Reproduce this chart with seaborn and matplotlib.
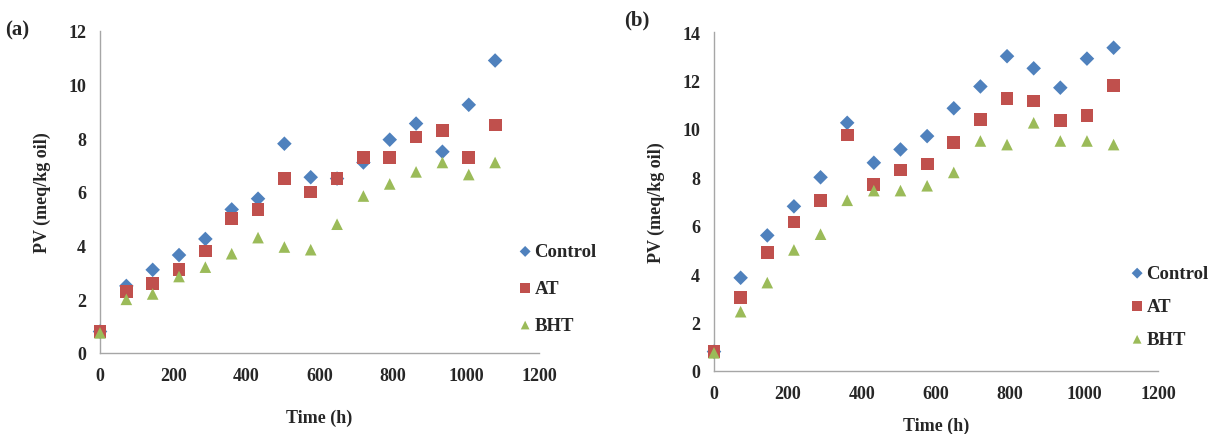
import matplotlib
matplotlib.use("Agg")
import matplotlib.pyplot as plt
import seaborn as sns
import pandas as pd

time_h = [0, 72, 144, 216, 288, 360, 432, 504, 576, 648, 720, 792, 864, 936, 1008, 1080]

a_control = [0.8, 2.5, 3.1, 3.65, 4.25, 5.35, 5.75, 7.8, 6.55, 6.5, 7.1, 7.95, 8.55, 7.5, 9.25, 10.9]
a_at = [0.8, 2.3, 2.6, 3.1, 3.8, 5.0, 5.35, 6.5, 6.0, 6.5, 7.3, 7.3, 8.05, 8.3, 7.3, 8.5]
a_bht = [0.75, 2.0, 2.2, 2.85, 3.2, 3.7, 4.3, 3.95, 3.85, 4.8, 5.85, 6.3, 6.75, 7.1, 6.65, 7.1]

b_control = [0.8, 3.85, 5.6, 6.8, 8.0, 10.25, 8.6, 9.15, 9.7, 10.85, 11.75, 13.0, 12.5, 11.7, 12.9, 13.35]
b_at = [0.8, 3.05, 4.9, 6.15, 7.05, 9.75, 7.7, 8.3, 8.55, 9.45, 10.4, 11.25, 11.15, 10.35, 10.55, 11.8]
b_bht = [0.75, 2.45, 3.65, 5.0, 5.65, 7.05, 7.45, 7.45, 7.65, 8.2, 9.5, 9.35, 10.25, 9.5, 9.5, 9.35]

groups = ["Control", "AT", "BHT"]
colors = {"Control": "#4F81BD", "AT": "#C0504D", "BHT": "#9BBB59"}
markers = {"Control": "D", "AT": "s", "BHT": "^"}
sizes = {"Control": 55, "AT": 85, "BHT": 70}


def long_df(ctrl, at, bht):
    rows = []
    for g, vals in zip(groups, [ctrl, at, bht]):
        for t, v in zip(time_h, vals):
            rows.append({"Time": t, "PV": v, "Group": g})
    return pd.DataFrame(rows)


df_a = long_df(a_control, a_at, a_bht)
df_b = long_df(b_control, b_at, b_bht)

sns.set_style("white")
plt.rcParams["font.family"] = ["Liberation Serif", "DejaVu Serif"]
plt.rcParams["font.weight"] = "bold"

W, H = 1209, 435
fig = plt.figure(figsize=(W / 100, H / 100), dpi=100)


def ax_rect(l, r, t, b):
    return [l / W, (H - b) / H, (r - l) / W, (b - t) / H]


ax_a = fig.add_axes(ax_rect(100, 539, 32, 354))
ax_b = fig.add_axes(ax_rect(714, 1158, 33, 372))


def draw(ax, df, ymax, legend_xy, xlabelpad, spacing):
    for g in groups:
        sub = df[df["Group"] == g]
        sns.scatterplot(data=sub, x="Time", y="PV", ax=ax, color=colors[g],
                        marker=markers[g], s=sizes[g], edgecolor="none",
                        linewidth=0, label=g, clip_on=False, zorder=3)
    ax.set_xlim(0, 1200)
    ax.set_ylim(0, ymax)
    ax.set_xticks(range(0, 1201, 200))
    ax.set_yticks(range(0, ymax + 1, 2))
    for s in ["top", "right"]:
        ax.spines[s].set_visible(False)
    for s in ["left", "bottom"]:
        ax.spines[s].set_color("#A6A6A6")
        ax.spines[s].set_linewidth(1.0)
    ax.tick_params(axis="both", which="both", direction="out", length=4,
                   width=1, color="#A6A6A6", labelsize=13, pad=6)
    for lab in ax.get_xticklabels() + ax.get_yticklabels():
        lab.set_fontweight("bold")
    ax.set_xlabel("Time (h)", fontsize=13, fontweight="bold", labelpad=xlabelpad)
    ax.set_ylabel("PV (meq/kg oil)", fontsize=13, fontweight="bold", labelpad=12)
    leg = ax.legend(loc="center left", bbox_to_anchor=legend_xy, frameon=False,
                    handletextpad=0.0, labelspacing=spacing, borderaxespad=0,
                    handlelength=1.0, markerscale=0.75, prop={"size": 13.5, "weight": "bold"})
    return leg


draw(ax_a, df_a, 12, (0.93, 0.20), 18, 1.05)
draw(ax_b, df_b, 14, (0.915, 0.19), 11, 0.85)

fig.text(5 / W, 1 - 30 / H, "(a)", fontsize=15, fontweight="bold", va="center", ha="left")
fig.text(624 / W, 1 - 20 / H, "(b)", fontsize=15, fontweight="bold", va="center", ha="left")

fig.savefig("out.png", dpi=100, facecolor="white")
